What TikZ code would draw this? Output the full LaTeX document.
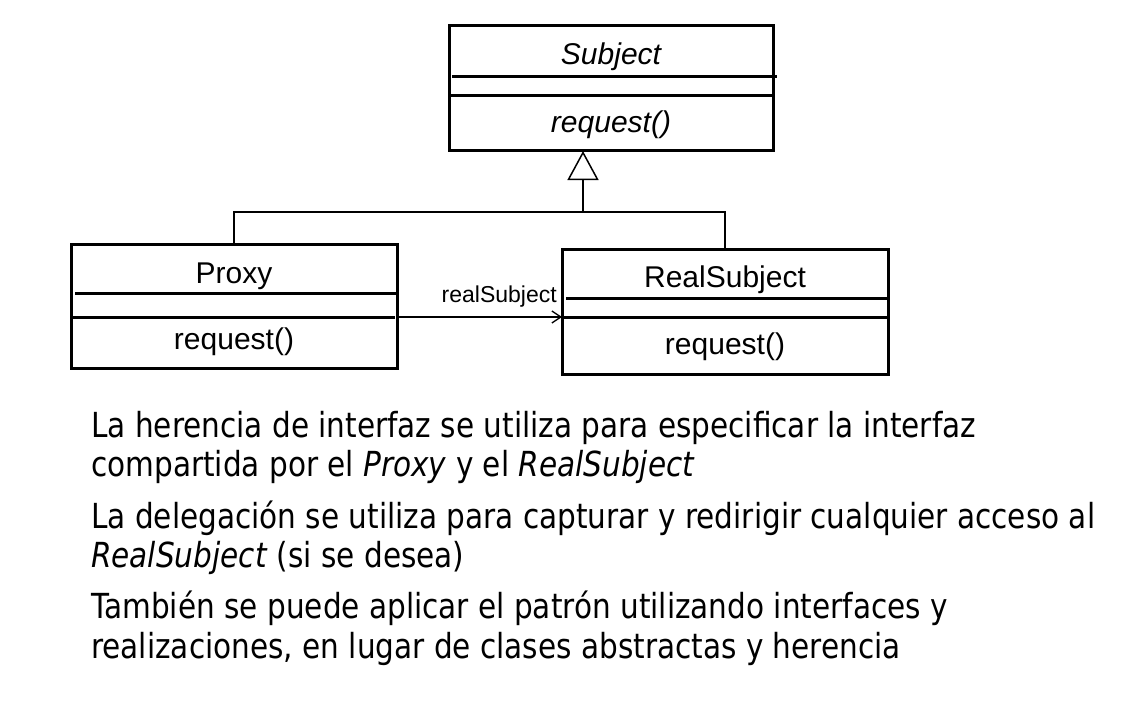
\documentclass[tikz,border=0pt]{standalone}
\usepackage{fontspec}
\setmainfont{Liberation Sans}
\newfontfamily\bodyfont[FakeStretch=0.856]{DejaVu Sans}
\usetikzlibrary{arrows.meta,calc}
\begin{document}
\begin{tikzpicture}[x=1pt,y=-1pt,
  umlbox/.style={draw,line width=3pt,inner sep=0pt,outer sep=0pt},
  cline/.style={line width=3pt},
  conn/.style={line width=1.5pt},
  lbl/.style={inner sep=0pt,anchor=base,font=\fontsize{30}{36}\selectfont},
  small/.style={inner sep=0pt,anchor=base east,font=\fontsize{23}{28}\selectfont},
  body/.style={inner sep=0pt,anchor=base west,font=\bodyfont\fontsize{34.5}{40}\selectfont}]
\useasboundingbox[fill=white] (0,0) rectangle (1147,722);

% boxes
\node[umlbox,minimum width=324pt,minimum height=125pt] (subject) at (611,88.5) {};
\node[umlbox,minimum width=326pt,minimum height=124pt] (proxy) at (234,306) {};
\node[umlbox,minimum width=326pt,minimum height=125pt] (realsub) at (725,311.5) {};

% compartments
\draw[cline] ($(subject.north west)+(3,51)$) -- ($(subject.north east)+(4,51)$);
\draw[cline] ($(subject.north west)+(0,70)$) -- ($(subject.north east)+(0,70)$);
\draw[cline] ($(proxy.north west)+(4,49)$) -- ($(proxy.north east)+(2,49)$);
\draw[cline] ($(proxy.north west)+(0,73)$) -- ($(proxy.north east)+(-2,73)$);
\draw[cline] ($(realsub.north west)+(4,49)$) -- ($(realsub.north east)+(2,49)$);
\draw[cline] ($(realsub.north west)+(0,68)$) -- ($(realsub.north east)+(0,68)$);

% texts in boxes
\node[lbl] (subjname) at (611,65) {\itshape Subject};
\node[lbl] (subjop) at (611,133) {\itshape request()};
\node[lbl] (proxyname) at (234,283) {Proxy};
\node[lbl] (proxyop) at (234,349) {request()};
\node[lbl] (realname) at (725,287) {RealSubject};
\node[lbl] (realop) at (725,354) {request()};

% inheritance
\coordinate (j) at (583,212);
\draw[conn] (proxy.north) |- (j) -| (realsub.north);
\draw[conn,-{Triangle[open,length=29pt,width=31pt,line width=1.5pt]}] (j) -- (subject.south -| j);

% association
\coordinate (as) at ($(proxy.north east)+(0,73)$);
\coordinate (ae) at ($(realsub.north west)+(0,68)$);
\draw[conn,-{Straight Barb[length=9pt,width=12pt,line width=1.3pt]}] (as) -- (ae);
\node[small] (alabel) at ($(realsub.north west)+(-5,53)$) {realSubject};

% body text
\node[body] (t1) at (91,437) {La herencia de interfaz se utiliza para especificar la interfaz};
\node[body] (t2) at (91,476) {compartida por el \emph{Proxy} y el \emph{RealSubject}};
\node[body] (t3) at (91,528) {La delegación se utiliza para capturar y redirigir cualquier acceso al};
\node[body] (t4) at (91,567) {\emph{RealSubject} (si se desea)};
\node[body] (t5) at (91,618) {También se puede aplicar el patrón utilizando interfaces y};
\node[body] (t6) at (91,658) {realizaciones, en lugar de clases abstractas y herencia};
\end{tikzpicture}
\end{document}
